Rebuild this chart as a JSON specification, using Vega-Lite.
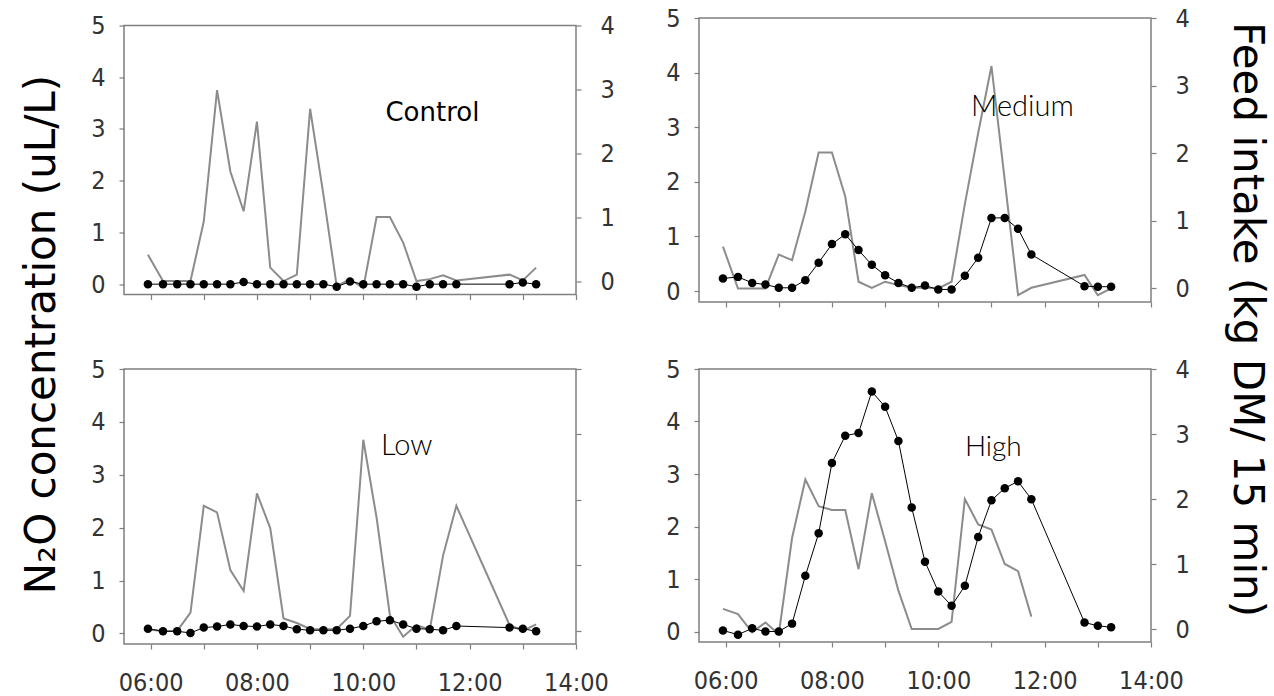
{
  "$schema": "https://vega.github.io/schema/vega-lite/v6.json",
  "padding": {"left": 19, "top": 5, "right": 5, "bottom": 5},
  "background": "white",
  "data": {
    "format": {"parse": {"t": "utc:'%H:%M'"}},
    "values": [
      {"panel":"Control","t":"05:57","n2o":0,"feed":0.42},
      {"panel":"Control","t":"06:14","n2o":0,"feed":0.01},
      {"panel":"Control","t":"06:30","n2o":0,"feed":0.01},
      {"panel":"Control","t":"06:45","n2o":0,"feed":0.01},
      {"panel":"Control","t":"07:00","n2o":0,"feed":0.94},
      {"panel":"Control","t":"07:15","n2o":0,"feed":2.99},
      {"panel":"Control","t":"07:30","n2o":0,"feed":1.72},
      {"panel":"Control","t":"07:45","n2o":0.04,"feed":1.10},
      {"panel":"Control","t":"08:00","n2o":0,"feed":2.50},
      {"panel":"Control","t":"08:15","n2o":0,"feed":0.22},
      {"panel":"Control","t":"08:30","n2o":0,"feed":0.01},
      {"panel":"Control","t":"08:45","n2o":0,"feed":0.11},
      {"panel":"Control","t":"09:00","n2o":0,"feed":2.70},
      {"panel":"Control","t":"09:15","n2o":0,"feed":1.36},
      {"panel":"Control","t":"09:30","n2o":-0.05,"feed":-0.07},
      {"panel":"Control","t":"09:45","n2o":0.05,"feed":0.04},
      {"panel":"Control","t":"10:00","n2o":0,"feed":-0.10},
      {"panel":"Control","t":"10:15","n2o":0,"feed":1.01},
      {"panel":"Control","t":"10:30","n2o":0,"feed":1.01},
      {"panel":"Control","t":"10:45","n2o":0,"feed":0.61},
      {"panel":"Control","t":"11:00","n2o":-0.05,"feed":0.01},
      {"panel":"Control","t":"11:15","n2o":0,"feed":0.04},
      {"panel":"Control","t":"11:30","n2o":0,"feed":0.10},
      {"panel":"Control","t":"11:45","n2o":0,"feed":0.02},
      {"panel":"Control","t":"12:45","n2o":0,"feed":0.11},
      {"panel":"Control","t":"13:00","n2o":0.03,"feed":0.02},
      {"panel":"Control","t":"13:15","n2o":0,"feed":0.22},

      {"panel":"Medium","t":"05:57","n2o":0.23,"feed":0.62},
      {"panel":"Medium","t":"06:14","n2o":0.26,"feed":0.0},
      {"panel":"Medium","t":"06:30","n2o":0.15,"feed":0.0},
      {"panel":"Medium","t":"06:45","n2o":0.12,"feed":0.0},
      {"panel":"Medium","t":"07:00","n2o":0.06,"feed":0.50},
      {"panel":"Medium","t":"07:15","n2o":0.06,"feed":0.42},
      {"panel":"Medium","t":"07:30","n2o":0.20,"feed":1.14},
      {"panel":"Medium","t":"07:45","n2o":0.52,"feed":2.01},
      {"panel":"Medium","t":"08:00","n2o":0.86,"feed":2.01},
      {"panel":"Medium","t":"08:15","n2o":1.04,"feed":1.36},
      {"panel":"Medium","t":"08:30","n2o":0.75,"feed":0.10},
      {"panel":"Medium","t":"08:45","n2o":0.48,"feed":0.01},
      {"panel":"Medium","t":"09:00","n2o":0.29,"feed":0.10},
      {"panel":"Medium","t":"09:15","n2o":0.15,"feed":0.05},
      {"panel":"Medium","t":"09:30","n2o":0.06,"feed":0.01},
      {"panel":"Medium","t":"09:45","n2o":0.10,"feed":0.01},
      {"panel":"Medium","t":"10:00","n2o":0.03,"feed":0.0},
      {"panel":"Medium","t":"10:15","n2o":0.03,"feed":0.10},
      {"panel":"Medium","t":"10:30","n2o":0.28,"feed":1.25},
      {"panel":"Medium","t":"10:45","n2o":0.61,"feed":2.30},
      {"panel":"Medium","t":"11:00","n2o":1.34,"feed":3.29},
      {"panel":"Medium","t":"11:15","n2o":1.34,"feed":1.60},
      {"panel":"Medium","t":"11:30","n2o":1.14,"feed":-0.10},
      {"panel":"Medium","t":"11:45","n2o":0.67,"feed":0.01},
      {"panel":"Medium","t":"12:45","n2o":0.09,"feed":0.20},
      {"panel":"Medium","t":"13:00","n2o":0.08,"feed":-0.10},
      {"panel":"Medium","t":"13:15","n2o":0.08,"feed":0.0},

      {"panel":"Low","t":"05:57","n2o":0.09,"feed":0.02},
      {"panel":"Low","t":"06:14","n2o":0.04,"feed":0.0},
      {"panel":"Low","t":"06:30","n2o":0.04,"feed":0.0},
      {"panel":"Low","t":"06:45","n2o":0.01,"feed":0.28},
      {"panel":"Low","t":"07:00","n2o":0.11,"feed":1.91},
      {"panel":"Low","t":"07:15","n2o":0.13,"feed":1.81},
      {"panel":"Low","t":"07:30","n2o":0.17,"feed":0.93},
      {"panel":"Low","t":"07:45","n2o":0.14,"feed":0.61},
      {"panel":"Low","t":"08:00","n2o":0.13,"feed":2.10},
      {"panel":"Low","t":"08:15","n2o":0.17,"feed":1.57},
      {"panel":"Low","t":"08:30","n2o":0.14,"feed":0.19},
      {"panel":"Low","t":"08:45","n2o":0.08,"feed":0.12},
      {"panel":"Low","t":"09:00","n2o":0.06,"feed":0.03},
      {"panel":"Low","t":"09:15","n2o":0.06,"feed":0.02},
      {"panel":"Low","t":"09:30","n2o":0.06,"feed":0.03},
      {"panel":"Low","t":"09:45","n2o":0.09,"feed":0.23},
      {"panel":"Low","t":"10:00","n2o":0.14,"feed":2.92},
      {"panel":"Low","t":"10:15","n2o":0.23,"feed":1.73},
      {"panel":"Low","t":"10:30","n2o":0.25,"feed":0.24},
      {"panel":"Low","t":"10:45","n2o":0.17,"feed":-0.09},
      {"panel":"Low","t":"11:00","n2o":0.09,"feed":0.09},
      {"panel":"Low","t":"11:15","n2o":0.08,"feed":0.02},
      {"panel":"Low","t":"11:30","n2o":0.06,"feed":1.15},
      {"panel":"Low","t":"11:45","n2o":0.14,"feed":1.91},
      {"panel":"Low","t":"12:45","n2o":0.11,"feed":0.09},
      {"panel":"Low","t":"13:00","n2o":0.09,"feed":0.0},
      {"panel":"Low","t":"13:15","n2o":0.04,"feed":0.10},

      {"panel":"High","t":"05:57","n2o":0.02,"feed":0.31},
      {"panel":"High","t":"06:14","n2o":-0.06,"feed":0.23},
      {"panel":"High","t":"06:30","n2o":0.06,"feed":-0.05},
      {"panel":"High","t":"06:45","n2o":0.0,"feed":0.10},
      {"panel":"High","t":"07:00","n2o":0.0,"feed":-0.08},
      {"panel":"High","t":"07:15","n2o":0.15,"feed":1.40},
      {"panel":"High","t":"07:30","n2o":1.06,"feed":2.30},
      {"panel":"High","t":"07:45","n2o":1.87,"feed":1.89},
      {"panel":"High","t":"08:00","n2o":3.21,"feed":1.83},
      {"panel":"High","t":"08:15","n2o":3.73,"feed":1.83},
      {"panel":"High","t":"08:30","n2o":3.78,"feed":0.92},
      {"panel":"High","t":"08:45","n2o":4.57,"feed":2.09},
      {"panel":"High","t":"09:00","n2o":4.28,"feed":1.35},
      {"panel":"High","t":"09:15","n2o":3.63,"feed":0.59},
      {"panel":"High","t":"09:30","n2o":2.36,"feed":0.0},
      {"panel":"High","t":"09:45","n2o":1.33,"feed":0.0},
      {"panel":"High","t":"10:00","n2o":0.76,"feed":0.0},
      {"panel":"High","t":"10:15","n2o":0.49,"feed":0.11},
      {"panel":"High","t":"10:30","n2o":0.87,"feed":2.0},
      {"panel":"High","t":"10:45","n2o":1.80,"feed":1.61},
      {"panel":"High","t":"11:00","n2o":2.50,"feed":1.53},
      {"panel":"High","t":"11:15","n2o":2.73,"feed":1.0},
      {"panel":"High","t":"11:30","n2o":2.86,"feed":0.89},
      {"panel":"High","t":"11:45","n2o":2.52,"feed":0.19},
      {"panel":"High","t":"12:45","n2o":0.17,"feed":null},
      {"panel":"High","t":"13:00","n2o":0.11,"feed":null},
      {"panel":"High","t":"13:15","n2o":0.08,"feed":null}
    ]
  },
  "columns": 2,
  "bounds": "flush",
  "center": {"row": true},
  "spacing": {"row": 67, "column": 123},
  "concat": [
    {
      "width": 452, "height": 269,
      "transform": [{"filter": "datum.panel === 'Control'"}],
      "layer": [
        {
          "mark": {"type": "line", "color": "#8c8c8c", "strokeWidth": 2},
          "encoding": {
            "x": {"field": "t", "type": "temporal",
              "scale": {"type": "utc", "domain": [{"year":1900,"month":1,"date":1,"hours":5,"minutes":30,"utc":true},{"year":1900,"month":1,"date":1,"hours":14,"minutes":0,"utc":true}]},
              "axis": {"title": null, "labels": false, "labelOverlap": false, "labelFlush": false,
                "values": [{"year":1900,"month":1,"date":1,"hours":6,"minutes":0,"utc":true},{"year":1900,"month":1,"date":1,"hours":6,"minutes":30,"utc":true},{"year":1900,"month":1,"date":1,"hours":7,"minutes":0,"utc":true},{"year":1900,"month":1,"date":1,"hours":7,"minutes":30,"utc":true},{"year":1900,"month":1,"date":1,"hours":8,"minutes":0,"utc":true},{"year":1900,"month":1,"date":1,"hours":8,"minutes":30,"utc":true},{"year":1900,"month":1,"date":1,"hours":9,"minutes":0,"utc":true},{"year":1900,"month":1,"date":1,"hours":9,"minutes":30,"utc":true},{"year":1900,"month":1,"date":1,"hours":10,"minutes":0,"utc":true},{"year":1900,"month":1,"date":1,"hours":10,"minutes":30,"utc":true},{"year":1900,"month":1,"date":1,"hours":11,"minutes":0,"utc":true},{"year":1900,"month":1,"date":1,"hours":11,"minutes":30,"utc":true},{"year":1900,"month":1,"date":1,"hours":12,"minutes":0,"utc":true},{"year":1900,"month":1,"date":1,"hours":12,"minutes":30,"utc":true},{"year":1900,"month":1,"date":1,"hours":13,"minutes":0,"utc":true},{"year":1900,"month":1,"date":1,"hours":13,"minutes":30,"utc":true},{"year":1900,"month":1,"date":1,"hours":14,"minutes":0,"utc":true}]}},
            "y": {"field": "feed", "type": "quantitative",
              "scale": {"domain": [-0.2, 4], "nice": false, "zero": false},
              "axis": {"orient": "right", "title": null, "format": "d", "values": [0,1,2,3,4], "labelPadding": 19}}
          }
        },
        {
          "layer": [
            {
              "mark": {"type": "line", "color": "#000000", "strokeWidth": 1},
              "encoding": {
                "x": {"field": "t", "type": "temporal"},
                "y": {"field": "n2o", "type": "quantitative",
                  "scale": {"domain": [-0.2, 5], "nice": false, "zero": false},
                  "axis": {"orient": "left", "format": "d", "values": [0,1,2,3,4,5], "labelPadding": 14,
                    "title": "N₂O concentration (uL/L)", "titleX": -69.5, "titleY": 308.5, "titleAngle": 270,
                    "titleAlign": "center", "titleBaseline": "alphabetic"}}
              }
            },
            {
              "mark": {"type": "point", "filled": true, "color": "#000000", "size": 72, "opacity": 1},
              "encoding": {"x": {"field": "t", "type": "temporal"}, "y": {"field": "n2o", "type": "quantitative"}}
            },
            {
              "data": {"values": [{"label": "Control", "t": "10:25", "n2o": 3.16}], "format": {"parse": {"t": "utc:'%H:%M'"}}},
              "mark": {"type": "text", "align": "left", "baseline": "alphabetic", "font": "DejaVu Sans", "fontSize": 26, "color": "#000000"},
              "encoding": {"x": {"field": "t", "type": "temporal"}, "y": {"field": "n2o", "type": "quantitative"}, "text": {"field": "label"}}
            }
          ]
        }
      ],
      "resolve": {"scale": {"y": "independent"}}
    },
    {
      "width": 452, "height": 284,
      "transform": [{"filter": "datum.panel === 'Medium'"}],
      "layer": [
        {
          "mark": {"type": "line", "color": "#8c8c8c", "strokeWidth": 2},
          "encoding": {
            "x": {"field": "t", "type": "temporal",
              "scale": {"type": "utc", "domain": [{"year":1900,"month":1,"date":1,"hours":5,"minutes":30,"utc":true},{"year":1900,"month":1,"date":1,"hours":14,"minutes":0,"utc":true}]},
              "axis": {"title": null, "labels": false, "labelOverlap": false, "labelFlush": false,
                "values": [{"year":1900,"month":1,"date":1,"hours":6,"minutes":0,"utc":true},{"year":1900,"month":1,"date":1,"hours":6,"minutes":30,"utc":true},{"year":1900,"month":1,"date":1,"hours":7,"minutes":0,"utc":true},{"year":1900,"month":1,"date":1,"hours":7,"minutes":30,"utc":true},{"year":1900,"month":1,"date":1,"hours":8,"minutes":0,"utc":true},{"year":1900,"month":1,"date":1,"hours":8,"minutes":30,"utc":true},{"year":1900,"month":1,"date":1,"hours":9,"minutes":0,"utc":true},{"year":1900,"month":1,"date":1,"hours":9,"minutes":30,"utc":true},{"year":1900,"month":1,"date":1,"hours":10,"minutes":0,"utc":true},{"year":1900,"month":1,"date":1,"hours":10,"minutes":30,"utc":true},{"year":1900,"month":1,"date":1,"hours":11,"minutes":0,"utc":true},{"year":1900,"month":1,"date":1,"hours":11,"minutes":30,"utc":true},{"year":1900,"month":1,"date":1,"hours":12,"minutes":0,"utc":true},{"year":1900,"month":1,"date":1,"hours":12,"minutes":30,"utc":true},{"year":1900,"month":1,"date":1,"hours":13,"minutes":0,"utc":true},{"year":1900,"month":1,"date":1,"hours":13,"minutes":30,"utc":true},{"year":1900,"month":1,"date":1,"hours":14,"minutes":0,"utc":true}]}},
            "y": {"field": "feed", "type": "quantitative",
              "scale": {"domain": [-0.2, 4], "nice": false, "zero": false},
              "axis": {"orient": "right", "format": "d", "values": [0,1,2,3,4], "labelPadding": 19,
                "title": "Feed intake (kg DM/ 15 min)", "titleX": 82.5, "titleY": 301, "titleAngle": 90,
                "titleAlign": "center", "titleBaseline": "alphabetic"}}
          }
        },
        {
          "layer": [
            {
              "mark": {"type": "line", "color": "#000000", "strokeWidth": 1},
              "encoding": {
                "x": {"field": "t", "type": "temporal"},
                "y": {"field": "n2o", "type": "quantitative",
                  "scale": {"domain": [-0.2, 5], "nice": false, "zero": false},
                  "axis": {"orient": "left", "title": null, "format": "d", "values": [0,1,2,3,4,5], "labelPadding": 14}}
              }
            },
            {
              "mark": {"type": "point", "filled": true, "color": "#000000", "size": 72, "opacity": 1},
              "encoding": {"x": {"field": "t", "type": "temporal"}, "y": {"field": "n2o", "type": "quantitative"}}
            },
            {
              "data": {"values": [{"label": "Medium", "t": "10:37", "n2o": 3.21}], "format": {"parse": {"t": "utc:'%H:%M'"}}},
              "mark": {"type": "text", "align": "left", "baseline": "alphabetic", "font": "Lato", "fontWeight": 300, "fontSize": 29, "color": "#000000"},
              "encoding": {"x": {"field": "t", "type": "temporal"}, "y": {"field": "n2o", "type": "quantitative"}, "text": {"field": "label"}}
            }
          ]
        }
      ],
      "resolve": {"scale": {"y": "independent"}}
    },
    {
      "width": 452, "height": 275,
      "transform": [{"filter": "datum.panel === 'Low'"}],
      "layer": [
        {
          "mark": {"type": "line", "color": "#8c8c8c", "strokeWidth": 2},
          "encoding": {
            "x": {"field": "t", "type": "temporal",
              "scale": {"type": "utc", "domain": [{"year":1900,"month":1,"date":1,"hours":5,"minutes":30,"utc":true},{"year":1900,"month":1,"date":1,"hours":14,"minutes":0,"utc":true}]},
              "axis": {"title": null, "labelOverlap": false, "labelFlush": false, "labelPadding": 21,
                "labelExpr": "utcminutes(datum.value) == 0 && utchours(datum.value) % 2 == 0 ? utcFormat(datum.value, '%H:%M') : ''",
                "values": [{"year":1900,"month":1,"date":1,"hours":6,"minutes":0,"utc":true},{"year":1900,"month":1,"date":1,"hours":6,"minutes":30,"utc":true},{"year":1900,"month":1,"date":1,"hours":7,"minutes":0,"utc":true},{"year":1900,"month":1,"date":1,"hours":7,"minutes":30,"utc":true},{"year":1900,"month":1,"date":1,"hours":8,"minutes":0,"utc":true},{"year":1900,"month":1,"date":1,"hours":8,"minutes":30,"utc":true},{"year":1900,"month":1,"date":1,"hours":9,"minutes":0,"utc":true},{"year":1900,"month":1,"date":1,"hours":9,"minutes":30,"utc":true},{"year":1900,"month":1,"date":1,"hours":10,"minutes":0,"utc":true},{"year":1900,"month":1,"date":1,"hours":10,"minutes":30,"utc":true},{"year":1900,"month":1,"date":1,"hours":11,"minutes":0,"utc":true},{"year":1900,"month":1,"date":1,"hours":11,"minutes":30,"utc":true},{"year":1900,"month":1,"date":1,"hours":12,"minutes":0,"utc":true},{"year":1900,"month":1,"date":1,"hours":12,"minutes":30,"utc":true},{"year":1900,"month":1,"date":1,"hours":13,"minutes":0,"utc":true},{"year":1900,"month":1,"date":1,"hours":13,"minutes":30,"utc":true},{"year":1900,"month":1,"date":1,"hours":14,"minutes":0,"utc":true}]}},
            "y": {"field": "feed", "type": "quantitative",
              "scale": {"domain": [-0.2, 4], "nice": false, "zero": false},
              "axis": {"orient": "right", "title": null, "values": [0,1,2,3,4], "labels": false}}
          }
        },
        {
          "layer": [
            {
              "mark": {"type": "line", "color": "#000000", "strokeWidth": 1},
              "encoding": {
                "x": {"field": "t", "type": "temporal"},
                "y": {"field": "n2o", "type": "quantitative",
                  "scale": {"domain": [-0.2, 5], "nice": false, "zero": false},
                  "axis": {"orient": "left", "title": null, "format": "d", "values": [0,1,2,3,4,5], "labelPadding": 14}}
              }
            },
            {
              "mark": {"type": "point", "filled": true, "color": "#000000", "size": 72, "opacity": 1},
              "encoding": {"x": {"field": "t", "type": "temporal"}, "y": {"field": "n2o", "type": "quantitative"}}
            },
            {
              "data": {"values": [{"label": "Low", "t": "10:20", "n2o": 3.37}], "format": {"parse": {"t": "utc:'%H:%M'"}}},
              "mark": {"type": "text", "align": "left", "baseline": "alphabetic", "font": "Lato", "fontWeight": 300, "fontSize": 29, "color": "#000000"},
              "encoding": {"x": {"field": "t", "type": "temporal"}, "y": {"field": "n2o", "type": "quantitative"}, "text": {"field": "label"}}
            }
          ]
        }
      ],
      "resolve": {"scale": {"y": "independent"}}
    },
    {
      "width": 452, "height": 273,
      "transform": [{"filter": "datum.panel === 'High'"}],
      "layer": [
        {
          "mark": {"type": "line", "color": "#8c8c8c", "strokeWidth": 2},
          "encoding": {
            "x": {"field": "t", "type": "temporal",
              "scale": {"type": "utc", "domain": [{"year":1900,"month":1,"date":1,"hours":5,"minutes":30,"utc":true},{"year":1900,"month":1,"date":1,"hours":14,"minutes":0,"utc":true}]},
              "axis": {"title": null, "labelOverlap": false, "labelFlush": false, "labelPadding": 21,
                "labelExpr": "utcminutes(datum.value) == 0 && utchours(datum.value) % 2 == 0 ? utcFormat(datum.value, '%H:%M') : ''",
                "values": [{"year":1900,"month":1,"date":1,"hours":6,"minutes":0,"utc":true},{"year":1900,"month":1,"date":1,"hours":6,"minutes":30,"utc":true},{"year":1900,"month":1,"date":1,"hours":7,"minutes":0,"utc":true},{"year":1900,"month":1,"date":1,"hours":7,"minutes":30,"utc":true},{"year":1900,"month":1,"date":1,"hours":8,"minutes":0,"utc":true},{"year":1900,"month":1,"date":1,"hours":8,"minutes":30,"utc":true},{"year":1900,"month":1,"date":1,"hours":9,"minutes":0,"utc":true},{"year":1900,"month":1,"date":1,"hours":9,"minutes":30,"utc":true},{"year":1900,"month":1,"date":1,"hours":10,"minutes":0,"utc":true},{"year":1900,"month":1,"date":1,"hours":10,"minutes":30,"utc":true},{"year":1900,"month":1,"date":1,"hours":11,"minutes":0,"utc":true},{"year":1900,"month":1,"date":1,"hours":11,"minutes":30,"utc":true},{"year":1900,"month":1,"date":1,"hours":12,"minutes":0,"utc":true},{"year":1900,"month":1,"date":1,"hours":12,"minutes":30,"utc":true},{"year":1900,"month":1,"date":1,"hours":13,"minutes":0,"utc":true},{"year":1900,"month":1,"date":1,"hours":13,"minutes":30,"utc":true},{"year":1900,"month":1,"date":1,"hours":14,"minutes":0,"utc":true}]}},
            "y": {"field": "feed", "type": "quantitative",
              "scale": {"domain": [-0.2, 4], "nice": false, "zero": false},
              "axis": {"orient": "right", "title": null, "format": "d", "values": [0,1,2,3,4], "labelPadding": 19}}
          }
        },
        {
          "layer": [
            {
              "mark": {"type": "line", "color": "#000000", "strokeWidth": 1},
              "encoding": {
                "x": {"field": "t", "type": "temporal"},
                "y": {"field": "n2o", "type": "quantitative",
                  "scale": {"domain": [-0.2, 5], "nice": false, "zero": false},
                  "axis": {"orient": "left", "title": null, "format": "d", "values": [0,1,2,3,4,5], "labelPadding": 14}}
              }
            },
            {
              "mark": {"type": "point", "filled": true, "color": "#000000", "size": 72, "opacity": 1},
              "encoding": {"x": {"field": "t", "type": "temporal"}, "y": {"field": "n2o", "type": "quantitative"}}
            },
            {
              "data": {"values": [{"label": "High", "t": "10:30", "n2o": 3.34}], "format": {"parse": {"t": "utc:'%H:%M'"}}},
              "mark": {"type": "text", "align": "left", "baseline": "alphabetic", "font": "Lato", "fontWeight": 300, "fontSize": 28, "color": "#000000"},
              "encoding": {"x": {"field": "t", "type": "temporal"}, "y": {"field": "n2o", "type": "quantitative"}, "text": {"field": "label"}}
            }
          ]
        }
      ],
      "resolve": {"scale": {"y": "independent"}}
    }
  ],
  "config": {
    "view": {"stroke": "#7f7f7f", "strokeWidth": 1.5},
    "axis": {
      "grid": false, "domain": false,
      "tickColor": "#7f7f7f", "tickSize": 5, "tickWidth": 1.2,
      "labelFont": "DejaVu Sans Condensed, sans-serif",
      "labelFontSize": 25, "labelColor": "#333333",
      "titleFont": "DejaVu Sans", "titleFontSize": 42, "titleFontWeight": "normal", "titleColor": "#000000"
    }
  }
}
